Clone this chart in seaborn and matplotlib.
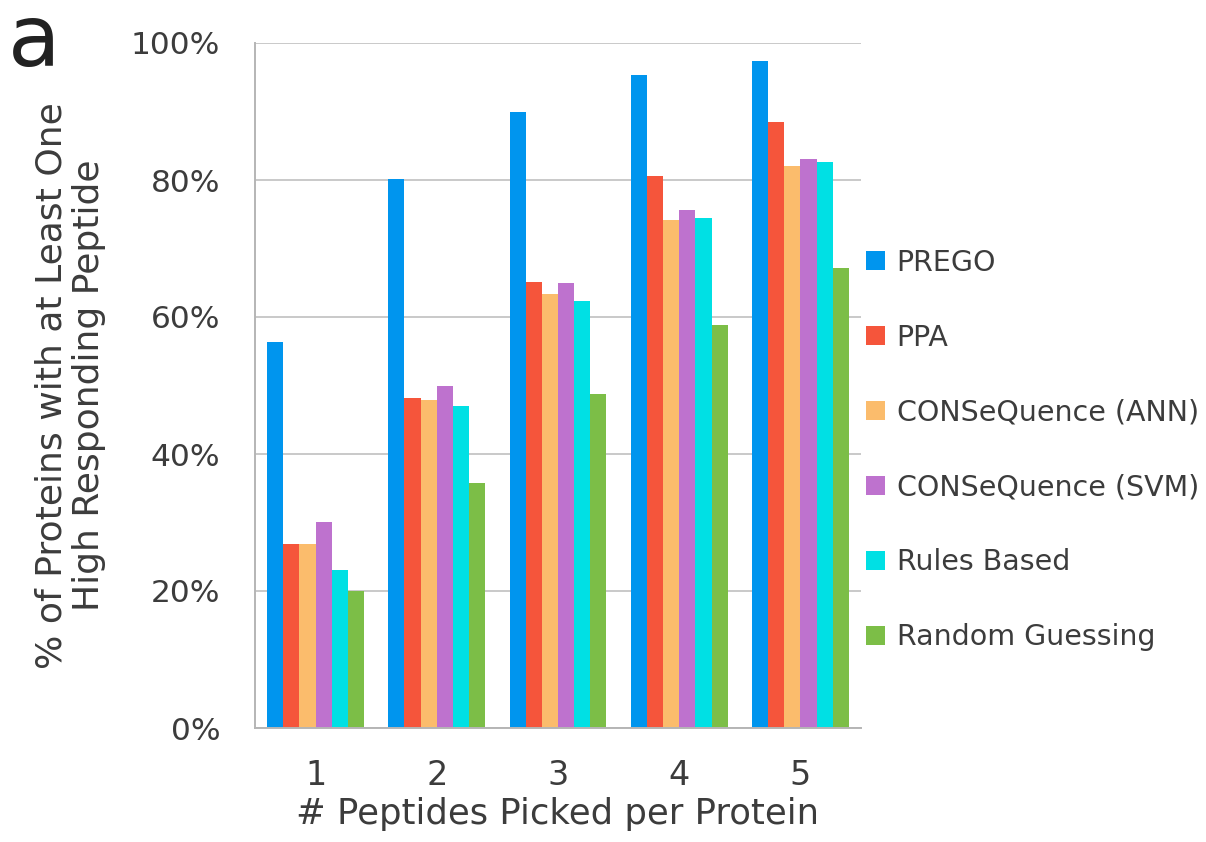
import matplotlib
matplotlib.use("Agg")
import matplotlib.pyplot as plt
import seaborn as sns
import pandas as pd
from matplotlib.ticker import FixedLocator, PercentFormatter

categories = ["1", "2", "3", "4", "5"]
methods = ["PREGO", "PPA", "CONSeQuence (ANN)", "CONSeQuence (SVM)",
           "Rules Based", "Random Guessing"]
prego = [56.4, 80.1, 90.0, 95.3, 97.4]
ppa = [26.8, 48.2, 65.1, 80.6, 88.5]
ann = [26.8, 47.9, 63.3, 74.2, 82.0]
svm = [30.1, 50.0, 64.9, 75.6, 83.1]
rules = [23.0, 47.0, 62.3, 74.5, 82.7]
random_guess = [20.0, 35.8, 48.7, 58.9, 67.1]
colors = ["#0095EE", "#F5553B", "#FBBC6C", "#BE72CE", "#00E0E4", "#7CBE47"]

series = [prego, ppa, ann, svm, rules, random_guess]
rows = []
for m, vals in zip(methods, series):
    for c, v in zip(categories, vals):
        rows.append({"cat": c, "method": m, "value": v})
df = pd.DataFrame(rows)

sns.set_style("white")
plt.rcParams["font.family"] = ["DejaVu Sans"]
text_color = "#3c3c3c"

fig = plt.figure(figsize=(12.06, 8.42), dpi=100)
ax = fig.add_axes([255 / 1206, 1 - 728 / 842, (861 - 255) / 1206, (728 - 43) / 842])

sns.barplot(data=df, x="cat", y="value", hue="method", hue_order=methods,
            order=categories, palette=colors, width=0.8, gap=0, ax=ax,
            saturation=1, edgecolor="none", linewidth=0, legend=True)

ax.set_ylim(0, 100)
ax.set_xlim(-0.5, 4.5)
ax.set_yticks([0, 20, 40, 60, 80, 100])
ax.yaxis.set_major_formatter(PercentFormatter(decimals=0))
ax.yaxis.grid(True, color="#c9c9c9", linewidth=1.4)
ax.set_axisbelow(True)
for s in ["top", "right"]:
    ax.spines[s].set_visible(False)
for s in ["left", "bottom"]:
    ax.spines[s].set_color("#b5b5b5")
    ax.spines[s].set_linewidth(1.4)

ax.xaxis.set_minor_locator(FixedLocator([-0.5, 0.5, 1.5, 2.5, 3.5, 4.5]))
ax.tick_params(axis="x", which="major", length=0, pad=22, labelsize=24, labelcolor=text_color)
ax.tick_params(axis="x", which="minor", length=8, width=1.2, color="#b5b5b5", direction="out")
ax.tick_params(axis="y", which="major", length=10, width=1.2, color="#b5b5b5",
               direction="out", pad=15, labelsize=22.5, labelcolor=text_color)

ax.set_xlabel("# Peptides Picked per Protein", fontsize=25.5, color=text_color, labelpad=4)
ax.set_ylabel("% of Proteins with at Least One\nHigh Responding Peptide",
              fontsize=26, color=text_color, labelpad=18, linespacing=1.12)

leg = ax.legend(loc="center left", bbox_to_anchor=(866 / 1206, 1 - 450 / 842),
                bbox_transform=fig.transFigure, frameon=False, fontsize=20.5,
                handlelength=0.68, handleheight=0.68, handletextpad=0.4,
                labelspacing=1.65, borderpad=0, borderaxespad=0)
for t in leg.get_texts():
    t.set_color(text_color)

fig.text(8 / 1206, 1 - 1 / 842, "a", fontsize=62, color="#222222",
         va="top", ha="left")

fig.savefig("out.png", dpi=100)
